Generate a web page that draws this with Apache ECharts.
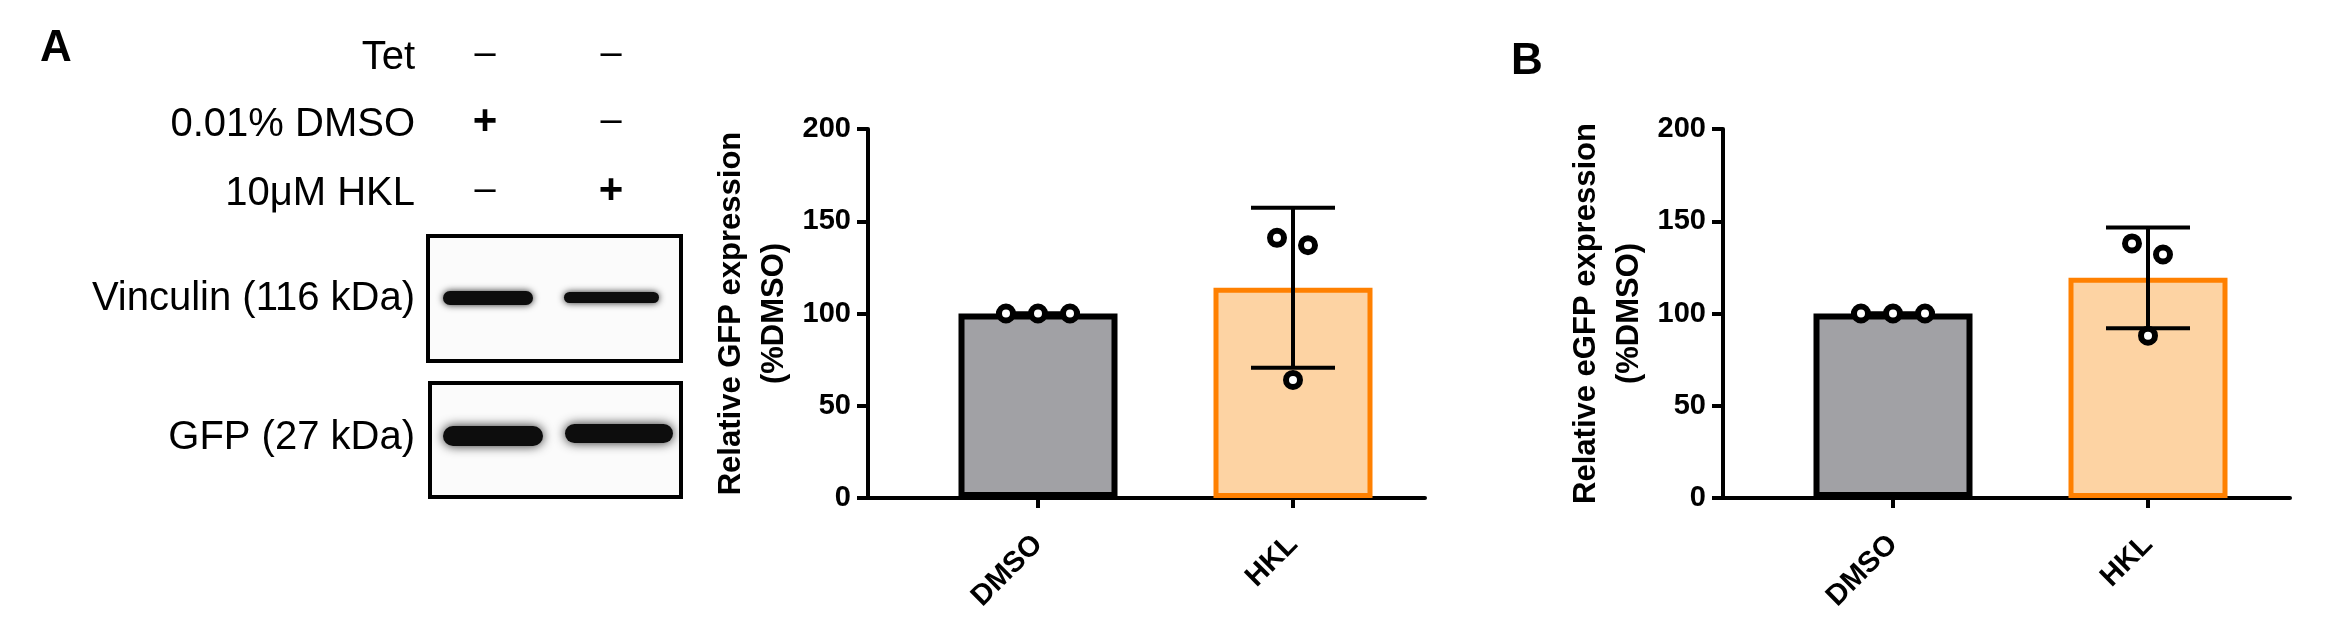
<!DOCTYPE html>
<html><head><meta charset="utf-8">
<script src="https://cdn.jsdelivr.net/npm/echarts@6/dist/echarts.min.js"></script>
<style>html,body{margin:0;padding:0;background:#fff}#c{width:2339px;height:624px}</style>
</head><body><div id="c"></div>
<script>
// ---------------- data ----------------
const categories = ['DMSO', 'HKL'];
const gfpPoints = [[100, 100, 100], [141, 137, 64]];     // panel A
const egfpPoints = [[100, 100, 100], [138, 132, 88]];    // panel B
const yMin = 0, yMax = 200, yStep = 50;
const panelNames = ['Relative GFP expression\n(%DMSO)', 'Relative eGFP expression\n(%DMSO)'];
const panelLetters = ['A', 'B'];
const treatments = ['Tet', '0.01% DMSO', '10μM HKL'];
const treatmentSigns = [['–', '–'], ['+', '–'], ['–', '+']];
const blotRows = ['Vinculin (116 kDa)', 'GFP (27 kDa)'];

// ---------------- layout / style ----------------
const FONT = '"Liberation Sans", Arial, sans-serif';
const fills = ['#A1A1A5', '#FDD3A3'];
const borders = ['#000000', '#FF8000'];
const borderW = [6, 5];
const jitter = [[-32, 0, 32], [-16, 15, 0]];
const PX_PER_UNIT = 85;
const catX = i => 2 + 3 * i;   // category centre on the hidden value scale
const grids = [
  { left: 868, top: 129, width: 557, height: 369 },
  { left: 1723, top: 129, width: 567, height: 369 }
];

const mean = a => a.reduce((s, v) => s + v, 0) / a.length;
const sd = a => { const m = mean(a); return Math.sqrt(a.reduce((s, v) => s + (v - m) * (v - m), 0) / (a.length - 1)); };

const chart = echarts.init(document.getElementById('c'), null, { renderer: 'canvas' });

const xAxes = [], yAxes = [], series = [];
[gfpPoints, egfpPoints].forEach((pts, k) => {
  xAxes.push({
    gridIndex: k, type: 'value', min: 0, max: grids[k].width / PX_PER_UNIT,
    axisLine: { show: true, onZero: false, lineStyle: { color: '#000', width: 4 } },
    splitLine: { show: false },
    axisTick: { show: true, customValues: categories.map((c, i) => catX(i)), length: 10, lineStyle: { color: '#000', width: 4 } },
    axisLabel: {
      show: true, customValues: categories.map((c, i) => catX(i)),
      formatter: v => categories[Math.round((v - 2) / 3)] || '',
      rotate: 45, margin: 42, color: '#000', fontSize: 29, fontWeight: 'bold', fontFamily: FONT
    }
  });
  yAxes.push({
    gridIndex: k, type: 'value', min: yMin, max: yMax, interval: yStep,
    axisLine: { show: true, lineStyle: { color: '#000', width: 4 } },
    axisTick: { show: true, length: 11, lineStyle: { color: '#000', width: 4 } },
    splitLine: { show: false },
    axisLabel: { color: '#000', fontSize: 29, fontWeight: 'bold', fontFamily: FONT, margin: 17 },
    name: panelNames[k], nameLocation: 'middle', nameRotate: 90, nameGap: 72,
    nameTextStyle: { color: '#000', fontSize: 31, fontWeight: 'bold', fontFamily: FONT, lineHeight: 43, align: 'center' }
  });
  series.push({
    type: 'bar', xAxisIndex: k, yAxisIndex: k, barWidth: 159, z: 2,
    data: pts.map((p, i) => ({
      value: [catX(i), mean(p)],
      itemStyle: { color: fills[i], borderColor: borders[i], borderWidth: borderW[i] }
    }))
  });
  series.push({
    type: 'custom', xAxisIndex: k, yAxisIndex: k, z: 3,
    data: pts.map((p, i) => [catX(i), mean(p) - sd(p), mean(p) + sd(p)]),
    renderItem: (params, api) => {
      const x = api.value(0);
      const lo = api.coord([x, api.value(1)]);
      const hi = api.coord([x, api.value(2)]);
      const hw = 42;
      const st = { stroke: '#000', lineWidth: 4 };
      return {
        type: 'group', children: [
          { type: 'line', shape: { x1: hi[0], y1: hi[1], x2: lo[0], y2: lo[1] }, style: st },
          { type: 'line', shape: { x1: hi[0] - hw, y1: hi[1], x2: hi[0] + hw, y2: hi[1] }, style: st },
          { type: 'line', shape: { x1: lo[0] - hw, y1: lo[1], x2: lo[0] + hw, y2: lo[1] }, style: st }
        ]
      };
    }
  });
  const sc = [];
  pts.forEach((p, i) => p.forEach((v, j) => sc.push({ value: [catX(i), v], symbolOffset: [jitter[i][j], 0] })));
  series.push({
    type: 'scatter', xAxisIndex: k, yAxisIndex: k, z: 4, symbol: 'circle', symbolSize: 14,
    itemStyle: { color: '#fff', borderColor: '#000', borderWidth: 6, opacity: 1 },
    data: sc
  });
});

// ---------------- left panel (labels + blot) ----------------
const graphic = [];
graphic.push({ type: 'text', x: 40, y: 49, style: { text: panelLetters[0], font: 'bold 44px ' + FONT, fill: '#000', align: 'left', verticalAlign: 'middle' } });
graphic.push({ type: 'text', x: 1511, y: 62, style: { text: panelLetters[1], font: 'bold 44px ' + FONT, fill: '#000', align: 'left', verticalAlign: 'middle' } });
const rowY = [58, 125, 194];
const colX = [485, 611];
treatments.forEach((t, r) => {
  graphic.push({ type: 'text', x: 415, y: rowY[r], style: { text: t, font: '40px ' + FONT, fill: '#000', align: 'right', verticalAlign: 'middle' } });
  treatmentSigns[r].forEach((s, c) => {
    graphic.push({ type: 'text', x: colX[c], y: rowY[r] - 3, style: { text: s, font: (s === '+' ? 'bold 42px ' : '38px ') + FONT, fill: '#000', align: 'center', verticalAlign: 'middle' } });
  });
});
const boxes = [{ x: 428, y: 236, w: 253, h: 125, ty: 299 }, { x: 430, y: 383, w: 251, h: 114, ty: 438 }];
blotRows.forEach((name, r) => {
  const b = boxes[r];
  graphic.push({ type: 'rect', shape: { x: b.x, y: b.y, width: b.w, height: b.h }, style: { fill: '#fbfbfb', stroke: '#000', lineWidth: 4 }, z: 1 });
  graphic.push({ type: 'text', x: 415, y: b.ty, style: { text: name, font: '40px ' + FONT, fill: '#000', align: 'right', verticalAlign: 'middle' } });
});
const bands = [
  { x: 443, y: 291, w: 90, h: 14, blur: 7 },
  { x: 564, y: 292, w: 95, h: 11, blur: 7 },
  { x: 443, y: 426, w: 100, h: 20, blur: 11 },
  { x: 565, y: 424, w: 108, h: 19, blur: 11 }
];
bands.forEach(b => graphic.push({
  type: 'rect', z: 2, shape: { x: b.x, y: b.y, width: b.w, height: b.h, r: b.h / 2 },
  style: { fill: '#0d0d0d', shadowBlur: b.blur, shadowColor: 'rgba(0,0,0,0.85)' }
}));

chart.setOption({
  backgroundColor: '#fff',
  animation: false,
  grid: grids.map(g => Object.assign({ containLabel: false, outerBoundsMode: 'none' }, g)),
  xAxis: xAxes,
  yAxis: yAxes,
  series: series,
  graphic: graphic
});
</script>
</body></html>
